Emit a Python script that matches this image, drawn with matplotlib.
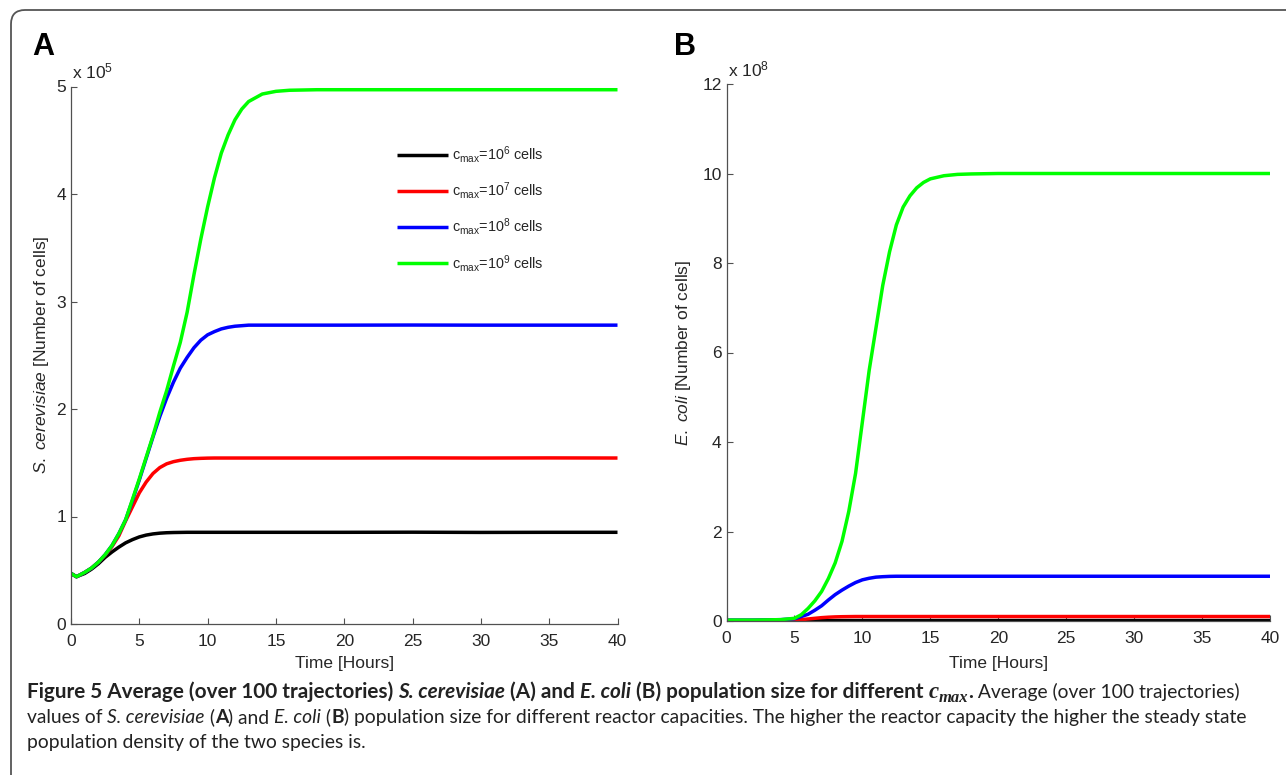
import numpy as np
import matplotlib
matplotlib.use("Agg")
import matplotlib.pyplot as plt
from matplotlib.patches import FancyBboxPatch
from matplotlib.transforms import IdentityTransform, offset_copy

# ---------------- data ----------------
# Panel A: S. cerevisiae population (x 1e5 cells)
tA = [0, 0.4, 1, 1.5, 2, 2.5, 3, 3.5, 4, 4.5, 5, 5.5, 6, 6.5, 7, 7.5, 8, 8.5, 9, 9.5,
      10, 10.5, 11, 11.5, 12, 12.5, 13, 14, 15, 16, 18, 20, 25, 30, 35, 40]
yeast_c6 = [0.47, 0.44, 0.47, 0.51, 0.56, 0.62, 0.67, 0.715, 0.755, 0.785, 0.81, 0.827, 0.838, 0.845,
            0.849, 0.851, 0.852, 0.853, 0.853, 0.853, 0.853, 0.853, 0.853, 0.853, 0.853, 0.853,
            0.853, 0.853, 0.853, 0.853, 0.853, 0.853, 0.854, 0.852, 0.853, 0.853]
yeast_c7 = [0.47, 0.44, 0.48, 0.52, 0.575, 0.64, 0.72, 0.82, 0.96, 1.09, 1.22, 1.32, 1.40, 1.455,
            1.49, 1.51, 1.523, 1.532, 1.538, 1.541, 1.543, 1.544, 1.544, 1.544, 1.544, 1.544,
            1.544, 1.544, 1.544, 1.544, 1.544, 1.544, 1.545, 1.544, 1.545, 1.544]
yeast_c8 = [0.47, 0.44, 0.48, 0.52, 0.575, 0.645, 0.73, 0.84, 0.97, 1.15, 1.34, 1.54, 1.74, 1.93,
            2.10, 2.25, 2.38, 2.48, 2.57, 2.64, 2.69, 2.72, 2.745, 2.76, 2.77, 2.775,
            2.78, 2.78, 2.78, 2.78, 2.78, 2.78, 2.781, 2.78, 2.78, 2.78]
yeast_c9 = [0.47, 0.44, 0.48, 0.52, 0.575, 0.645, 0.73, 0.84, 0.97, 1.16, 1.35, 1.55, 1.75, 1.97,
            2.17, 2.40, 2.62, 2.90, 3.25, 3.58, 3.88, 4.15, 4.38, 4.55, 4.69, 4.79,
            4.86, 4.93, 4.955, 4.965, 4.97, 4.97, 4.97, 4.97, 4.97, 4.97]

# Panel B: E. coli population (x 1e8 cells)
tB = [0, 2, 4, 5, 5.5, 6, 6.5, 7, 7.5, 8, 8.5, 9, 9.5, 10, 10.5, 11, 11.5, 12, 12.5, 13,
      13.5, 14, 14.5, 15, 16, 17, 18, 20, 25, 30, 35, 40]
coli_c6 = [0.005, 0.006, 0.007, 0.008, 0.009, 0.009, 0.01, 0.01, 0.01, 0.01, 0.01, 0.01, 0.01, 0.01,
           0.01, 0.01, 0.01, 0.01, 0.01, 0.01, 0.01, 0.01, 0.01, 0.01, 0.01, 0.01, 0.01, 0.01,
           0.01, 0.01, 0.01, 0.01]
coli_c7 = [0.01, 0.01, 0.012, 0.02, 0.03, 0.045, 0.06, 0.075, 0.085, 0.092, 0.096, 0.098, 0.1, 0.1,
           0.1, 0.1, 0.1, 0.1, 0.1, 0.1, 0.1, 0.1, 0.1, 0.1, 0.1, 0.1, 0.1, 0.1,
           0.1, 0.1, 0.1, 0.1]
coli_c8 = [0.02, 0.02, 0.03, 0.05, 0.10, 0.15, 0.24, 0.34, 0.47, 0.59, 0.69, 0.78, 0.86, 0.92,
           0.955, 0.98, 0.99, 0.997, 1.0, 1.0, 1.0, 1.0, 1.0, 1.0, 1.0, 1.0, 1.0, 1.0,
           1.0, 1.0, 1.0, 1.0]
coli_c9 = [0.02, 0.02, 0.03, 0.06, 0.14, 0.28, 0.45, 0.66, 0.95, 1.3, 1.78, 2.45, 3.3, 4.45,
           5.6, 6.55, 7.5, 8.25, 8.85, 9.25, 9.5, 9.68, 9.8, 9.88, 9.95, 9.98, 9.99, 10.0,
           10.0, 10.0, 10.0, 10.0]

legend_labels = [r"c$_{\mathrm{max}}$=10$^{6}$ cells", r"c$_{\mathrm{max}}$=10$^{7}$ cells",
                 r"c$_{\mathrm{max}}$=10$^{8}$ cells", r"c$_{\mathrm{max}}$=10$^{9}$ cells"]
colors = ["#000000", "#ff0000", "#0000ff", "#00ff00"]
xticks = [0, 5, 10, 15, 20, 25, 30, 35, 40]
yticksA = [0, 1, 2, 3, 4, 5]
yticksB = [0, 2, 4, 6, 8, 10, 12]

# ---------------- style ----------------
plt.rcParams['font.family'] = ['Liberation Sans', 'DejaVu Sans']
plt.rcParams['mathtext.fontset'] = 'custom'
plt.rcParams['mathtext.rm'] = 'Liberation Sans'
plt.rcParams['mathtext.it'] = 'Liberation Sans:italic'
plt.rcParams['mathtext.bf'] = 'Liberation Sans:bold'

W, H = 1286, 775
fig = plt.figure(figsize=(W / 100, H / 100), dpi=100)
fig.patch.set_facecolor('white')


def px_rect(l, t, r, b):
    return [l / W, 1 - b / H, (r - l) / W, (b - t) / H]


axA = fig.add_axes(px_rect(71, 86.5, 617.5, 624))
axB = fig.add_axes(px_rect(726.5, 84, 1270, 621))

TXT = '#262626'
AXC = '#505050'


def style(ax, ymax, yticks):
    for s in ['top', 'right']:
        ax.spines[s].set_visible(False)
    for s in ['left', 'bottom']:
        ax.spines[s].set_color(AXC)
        ax.spines[s].set_linewidth(0.9)
    ax.set_xlim(0, 40)
    ax.set_ylim(0, ymax)
    ax.set_xticks(xticks)
    ax.set_yticks(yticks)
    ax.tick_params(direction='in', length=4, width=0.8, colors=AXC, labelcolor=TXT,
                   labelsize=12.5)
    ax.tick_params(axis='y', pad=3.5)
    ax.tick_params(axis='x', pad=7.5)
    ax.set_xlabel('Time [Hours]', fontsize=12.5, color=TXT)


seriesA = [yeast_c6, yeast_c7, yeast_c8, yeast_c9]
seriesB = [coli_c6, coli_c7, coli_c8, coli_c9]
for vals, c, lab in zip(seriesA, colors, legend_labels):
    axA.plot(tA, vals, color=c, lw=2.5, label=lab, solid_capstyle='butt')
for vals, c in zip(seriesB, colors):
    axB.plot(tB, vals, color=c, lw=2.5, solid_capstyle='butt')

style(axA, 5, yticksA)
style(axB, 12, yticksB)
axA.set_ylabel(r"$\mathit{S.\ cerevisiae}$ [Number of cells]", fontsize=12.5, color=TXT)
axB.set_ylabel(r"$\mathit{E.\ coli}$ [Number of cells]", fontsize=12.5, color=TXT)
axA.yaxis.set_label_coords(-0.037, 0.5)
axB.yaxis.set_label_coords(-0.062, 0.5)
axA.xaxis.set_label_coords(0.5, -0.06)
axB.xaxis.set_label_coords(0.5, -0.066)

for ax, txt in [(axA, r"x 10$^{5}$"), (axB, r"x 10$^{8}$")]:
    tr = offset_copy(ax.transAxes, fig=fig, x=1, y=8, units='dots')
    ax.text(0, 1, txt, transform=tr, ha='left', va='baseline', fontsize=12.5, color=TXT)

leg = axA.legend(loc='upper left', bbox_to_anchor=(0.596, 0.893), frameon=False,
                 fontsize=10.4, handlelength=3.55, handletextpad=0.28, labelspacing=1.05,
                 borderpad=0, borderaxespad=0)
for t in leg.get_texts():
    t.set_color(TXT)

# panel letters
fig.text(32 / W, 1 - 55 / H, 'A', fontsize=22, fontweight='bold', va='baseline', ha='left')
fig.text(674 / W, 1 - 55 / H, 'B', fontsize=22, fontweight='bold', va='baseline', ha='left')

# frame of the figure box
frame = FancyBboxPatch((11, -60), 1500, H - 10 + 60, boxstyle="round,pad=0,rounding_size=14",
                       transform=IdentityTransform(), fill=False, ec='#555555', lw=1.3)
fig.add_artist(frame)

# ---------------- caption ----------------
renderer = fig.canvas.get_renderer()
CAP = 'Lato'
SERIF = 'Liberation Serif'


def text_width(s, size, **kw):
    t1 = fig.text(0, 0, 'x' + s + 'x', fontsize=size, **kw)
    w1 = t1.get_window_extent(renderer).width
    t1.remove()
    t2 = fig.text(0, 0, 'xx', fontsize=size, **kw)
    w2 = t2.get_window_extent(renderer).width
    t2.remove()
    return w1 - w2


def run_kw(style_name):
    kw = {'family': CAP}
    if style_name == 'b':
        kw.update(fontweight='bold')
    elif style_name == 'bi':
        kw.update(fontweight='bold', fontstyle='italic')
    elif style_name == 'i':
        kw.update(fontstyle='italic')
    elif style_name == 'mbi':
        kw = {'family': SERIF, 'fontweight': 'bold', 'fontstyle': 'italic'}
    return kw


line1_bold = [("Figure 5 Average (over 100 trajectories) ", 'b', 0, 1.0),
              ("S. cerevisiae", 'bi', 0, 1.0), (" (A) and ", 'b', 0, 1.0),
              ("E. coli", 'bi', 0, 1.0), (" (B) population size for different ", 'b', 0, 1.0),
              ("c", 'mbi', 0, 1.1), ("max", 'mbi', 4, 0.8), (".", 'b', 0, 1.0)]
line1_rest = [(" Average (over 100 trajectories)", 'n', 0, 1.0)]
line2 = [("values of ", 'n', 0, 1.0), ("S. cerevisiae", 'i', 0, 1.0), (" (", 'n', 0, 1.0),
         ("A", 'b', 0, 1.0), (") and ", 'n', 0, 1.0), ("E. coli", 'i', 0, 1.0),
         (" (", 'n', 0, 1.0), ("B", 'b', 0, 1.0),
         (") population size for different reactor capacities. The higher the reactor "
          "capacity the higher the steady state", 'n', 0, 1.0)]
line3 = [("population density of the two species is.", 'n', 0, 1.0)]


def runs_width(runs, size):
    return sum(text_width(s, size * sc, **run_kw(st)) for s, st, dy, sc in runs)


CAP_X = 27
base = 10.0
cap_size = base * (1247.0 - CAP_X) / runs_width(line2, base)
bold_size = base * (975.0 - CAP_X) / runs_width(line1_bold, base)


def draw_runs(x0, y0, runs, size):
    x = x0
    for s, st, dy, sc in runs:
        kw = run_kw(st)
        fig.text(x / W, 1 - (y0 + dy) / H, s, fontsize=size * sc, va='baseline', ha='left',
                 color='#222222', **kw)
        x += text_width(s, size * sc, **kw)
    return x


xe = draw_runs(CAP_X, 698, line1_bold, bold_size)
draw_runs(xe, 698, line1_rest, cap_size)
draw_runs(CAP_X, 723, line2, cap_size)
draw_runs(CAP_X, 748, line3, cap_size)

fig.savefig('out.png', dpi=100, facecolor='white')
